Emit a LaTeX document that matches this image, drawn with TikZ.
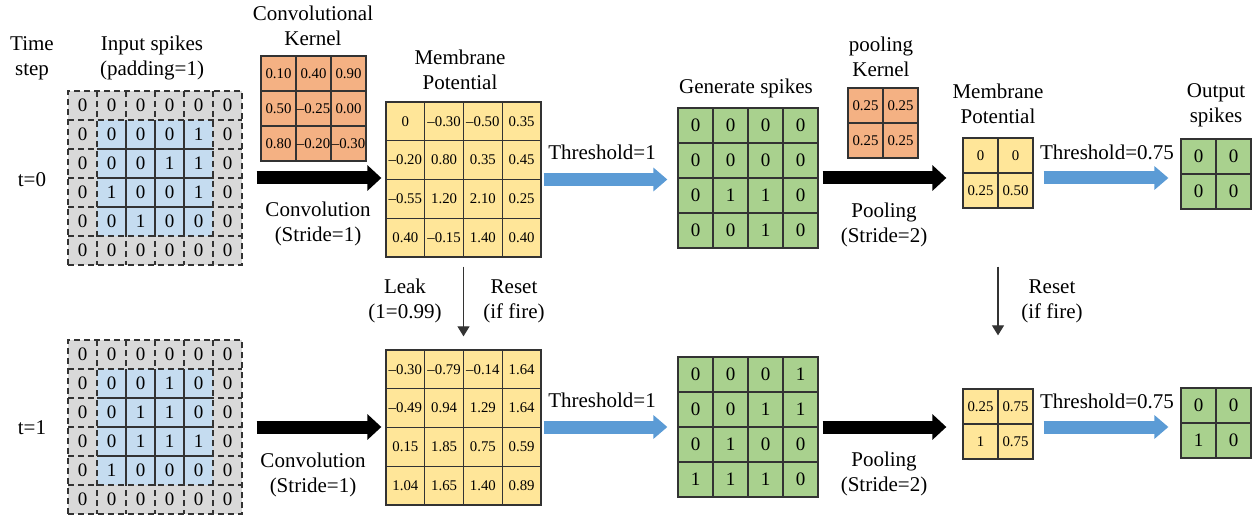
\documentclass[tikz,border=0pt]{standalone}
\usepackage{fontspec}
\setmainfont{Liberation Serif}
\usetikzlibrary{positioning,arrows.meta}

\definecolor{padgray}{HTML}{D9D9D9}
\definecolor{spikeblue}{HTML}{C5DCF0}
\definecolor{kernorange}{HTML}{F4B183}
\definecolor{potyellow}{HTML}{FFE699}
\definecolor{firegreen}{HTML}{A9D18E}
\definecolor{arrowblue}{HTML}{5B9BD5}
\definecolor{linegray}{HTML}{333333}

% square grid of values: name, left x, top y, cells, cell size, fill, number style, rows
\newcommand{\valgrid}[8]{%
  \node[gridbox,fill=#6,minimum size={#4*#5*0.5pt}] (#1) at ({#2+#4*#5/2},{#3+#4*#5/2}) {};
  \pgfmathtruncatemacro\lastline{#4-1}
  \foreach \k in {1,...,\lastline} {
    \draw[gridline] ({#2+\k*#5},#3) -- ++(0,{#4*#5});
    \draw[gridline] (#2,{#3+\k*#5}) -- ++({#4*#5},0);
  }
  \foreach \row [count=\r from 0] in {#8} {
    \foreach \v [count=\c from 0] in \row
      \node[#7] (#1-\r-\c) at ({#2+(\c+0.5)*#5},{#3+(\r+0.5)*#5}) {\v};
  }
}

% 6x6 input with zero padding: name, top y, rows
\newcommand{\padgrid}[3]{%
  \node[gridbox,padline,fill=padgray,minimum size=87pt] (#1) at (155,{#2+87}) {};
  \fill[spikeblue] (97,{#2+29}) rectangle (213,{#2+145});
  \foreach \k in {1,...,5} {
    \draw[gridline,padline] ({68+29*\k},#2) -- ++(0,174);
    \draw[gridline,padline] (68,{#2+29*\k}) -- ++(174,0);
  }
  % solid lines inside the real input
  \foreach \k in {2,3,4} {
    \draw[gridline] ({68+29*\k},{#2+29}) -- ++(0,116);
    \draw[gridline] (97,{#2+29*\k}) -- ++(116,0);
  }
  \foreach \row [count=\r from 0] in {#3} {
    \foreach \v [count=\c from 0] in \row
      \node[bignum] (#1-\r-\c) at ({68+(\c+0.5)*29},{#2+(\r+0.5)*29}) {\v};
  }
}

\begin{document}
\begin{tikzpicture}[x=0.5pt,y=-0.5pt,
    gridbox/.style={draw=linegray,line width=0.65pt,inner sep=0pt},
    gridline/.style={draw=linegray,line width=0.65pt},
    padline/.style={dash pattern=on 3pt off 2pt},
    bignum/.style={font=\fontsize{9.5}{10}\selectfont,inner sep=0pt},
    smallnum/.style={font=\fontsize{7.4}{8}\selectfont,inner sep=0pt},
    lbl/.style={font=\fontsize{10.5}{12.5}\selectfont,align=center,inner sep=0pt},
    convarrow/.style={line width=6.5pt,-{Triangle[length=7pt,width=12.5pt]}},
    firearrow/.style={arrowblue,line width=6.5pt,-{Triangle[length=7pt,width=11.5pt]}},
    steparrow/.style={linegray,line width=0.6pt,-{Triangle[length=5pt,width=6pt]}}]

\useasboundingbox (0,0) rectangle (1258,518);

% Time step t=0
\node[lbl] (steplbl) at (32,58) {Time\\step};
\node[lbl] (t0) at (32,180) {t=0};
\node[lbl] (inlbl) at (152,58) {Input spikes\\(padding=1)};
\padgrid{in0}{91}{{0,0,0,0,0,0},{0,0,0,0,1,0},{0,0,0,1,1,0},{0,1,0,0,1,0},{0,0,1,0,0,0},{0,0,0,0,0,0}}

\node[lbl] (kerlbl) at (313,26) {Convolutional\\Kernel};
\valgrid{ker}{261}{56}{3}{35}{kernorange}{smallnum}{{0.10,0.40,0.90},{0.50,--0.25,0.00},{0.80,--0.20,--0.30}}
\node[lbl] (conv0) at (318,224) {Convolution\\(Stride=1)};

\node[lbl] (mplbl0) at (460,70) {Membrane\\Potential};
\valgrid{mp0}{386}{102}{4}{38.75}{potyellow}{smallnum}{{0,--0.30,--0.50,0.35},{--0.20,0.80,0.35,0.45},{--0.55,1.20,2.10,0.25},{0.40,--0.15,1.40,0.40}}
\node[lbl] (thr0) at (602,152) {Threshold=1};

\node[lbl] (genlbl) at (746,88) {Generate spikes};
\valgrid{sp0}{678}{108}{4}{35}{firegreen}{bignum}{{0,0,0,0},{0,0,0,0},{0,1,1,0},{0,0,1,0}}

\node[lbl] (poollbl) at (881,57) {pooling\\Kernel};
\valgrid{pk}{848}{88}{2}{35}{kernorange}{smallnum}{{0.25,0.25},{0.25,0.25}}
\node[lbl] (pool0) at (884,225) {Pooling\\(Stride=2)};

\node[lbl] (mplbl1) at (998,104) {Membrane\\Potential};
\valgrid{mq0}{963}{138}{2}{35}{potyellow}{smallnum}{{0,0},{0.25,0.50}}
\node[lbl] (thq0) at (1107,152) {Threshold=0.75};

\node[lbl] (outlbl) at (1216,105) {Output\\spikes};
\valgrid{out0}{1181}{139}{2}{35}{firegreen}{bignum}{{0,0},{0,0}}

% Time step t=1
\node[lbl] (t1) at (32,428) {t=1};
\padgrid{in1}{340}{{0,0,0,0,0,0},{0,0,0,1,0,0},{0,0,1,1,0,0},{0,0,1,1,1,0},{0,1,0,0,0,0},{0,0,0,0,0,0}}
\node[lbl] (conv1) at (313,475) {Convolution\\(Stride=1)};

\valgrid{mp1}{386}{350}{4}{38.75}{potyellow}{smallnum}{{--0.30,--0.79,--0.14,1.64},{--0.49,0.94,1.29,1.64},{0.15,1.85,0.75,0.59},{1.04,1.65,1.40,0.89}}
\node[lbl] (thr1) at (602,400) {Threshold=1};

\valgrid{sp1}{678}{357}{4}{35}{firegreen}{bignum}{{0,0,0,1},{0,0,1,1},{0,1,0,0},{1,1,1,0}}
\node[lbl] (pool1) at (884,474) {Pooling\\(Stride=2)};

\valgrid{mq1}{963}{389}{2}{35}{potyellow}{smallnum}{{0.25,0.75},{1,0.75}}
\node[lbl] (thq1) at (1107,401) {Threshold=0.75};
\valgrid{out1}{1181}{388}{2}{35}{firegreen}{bignum}{{0,0},{1,0}}

% leak / reset between the steps
\node[lbl] (leaklbl) at (405,301) {Leak\\(1=0.99)};
\node[lbl] (resetlbl0) at (514,301) {Reset\\(if fire)};
\node[lbl] (resetlbl1) at (1052,301) {Reset\\(if fire)};

% arrows
\draw[convarrow,shorten <=7pt,shorten >=2pt] (in0.east) -- (in0.east -| mp0.west);
\draw[firearrow,shorten <=1pt,shorten >=5pt] (mp0.east) -- (mp0.east -| sp0.west);
\draw[convarrow,shorten <=2pt,shorten >=8pt] (sp0.east) -- (sp0.east -| mq0.west);
\draw[firearrow,shorten <=5pt,shorten >=6pt] (sp0.east -| mq0.east) -- (sp0.east -| out0.west);

\draw[convarrow,shorten <=7pt,shorten >=2pt] (in1.east) -- (in1.east -| mp1.west);
\draw[firearrow,shorten <=1pt,shorten >=5pt] (in1.east -| mp1.east) -- (in1.east -| sp1.west);
\draw[convarrow,shorten <=2pt,shorten >=8pt] (in1.east -| sp1.east) -- (in1.east -| mq1.west);
\draw[firearrow,shorten <=5pt,shorten >=6pt] (in1.east -| mq1.east) -- (in1.east -| out1.west);

\draw[steparrow,shorten <=4.5pt,shorten >=6.5pt] (mp0.south) -- (mp1.north);
\draw[steparrow,shorten <=29pt,shorten >=26.5pt] (mq0.south) -- (mq1.north);

\end{tikzpicture}
\end{document}
